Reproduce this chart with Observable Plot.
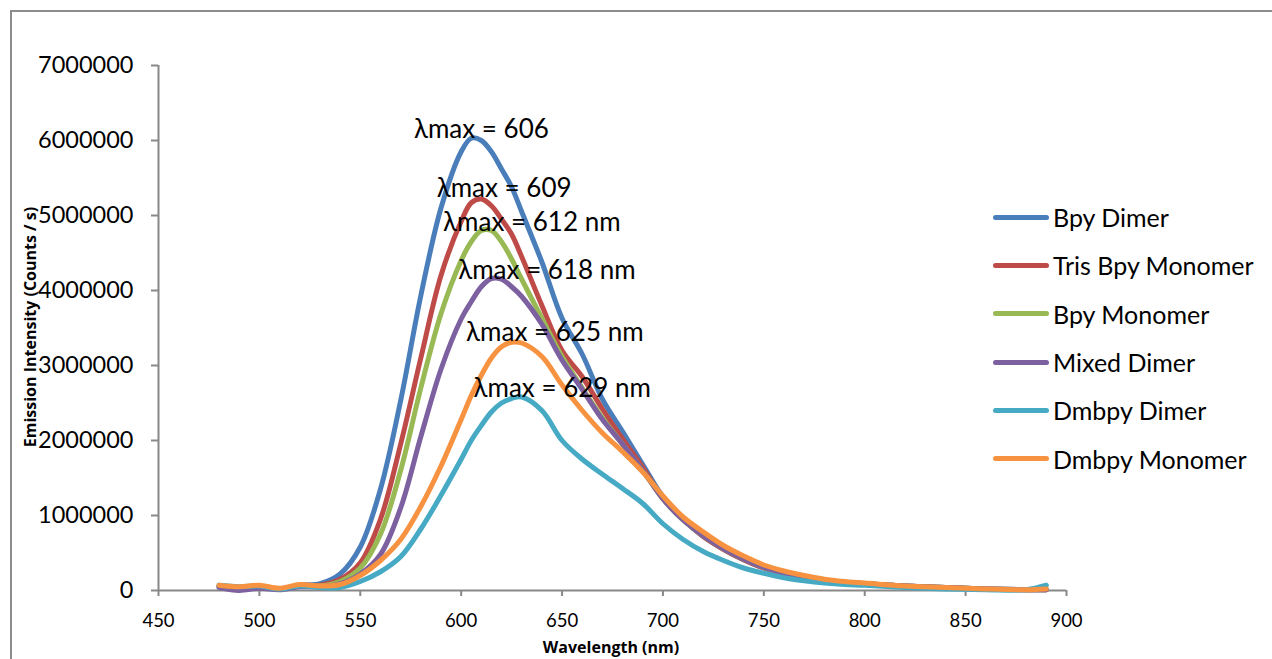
<!DOCTYPE html>
<html>
<head>
<meta charset="utf-8">
<script src="https://cdn.jsdelivr.net/npm/d3@7"></script>
<script src="https://cdn.jsdelivr.net/npm/@observablehq/plot@0.6"></script>
<style>
  html, body { margin: 0; padding: 0; background: #fff; }
  body { position: relative; width: 1272px; height: 659px; overflow: hidden; font-family: Lato, "Open Sans", sans-serif; }
  #chart { position: absolute; left: 0; top: 0; }
  #border { position: absolute; left: 10px; top: 10px; width: 1300px; height: 700px; border: 2px solid #8c8c8c; box-sizing: border-box; pointer-events: none; }
  #legend { position: absolute; left: 993px; top: 193px; }
  .row { height: 48.3px; display: flex; align-items: center; }
  .swatch { width: 56px; height: 5px; border-radius: 3px; margin-right: 4px; }
  .lab { font-size: 25px; color: #000; white-space: nowrap; }
  .atitle { position: absolute; font-family: "Open Sans", sans-serif; font-weight: bold; font-size: 16px; color: #000; white-space: nowrap; transform: translate(-50%, -50%); line-height: 1; }
  #ytitle { left: 30px; top: 327px; transform: translate(-50%, -50%) rotate(-90deg); }
  #xtitle { left: 611px; top: 647px; }
</style>
</head>
<body>
<div id="chart"></div>
<div id="border"></div>
<div id="legend"></div>
<div id="xtitle" class="atitle">Wavelength (nm)</div>
<div id="ytitle" class="atitle">Emission Intensity (Counts / s)</div>
<script>
// ---- data ----
const seriesNames = ["Bpy Dimer", "Tris Bpy Monomer", "Bpy Monomer", "Mixed Dimer", "Dmbpy Dimer", "Dmbpy Monomer"];
const seriesColors = ["#4A7EBB", "#BE4B48", "#98B954", "#7D60A0", "#46AAC5", "#F69240"];

const wavelength = [480,490,500,510,520,530,540,550,560,570,580,590,600,
  605,610,615,620,625,630,
  640,650,660,670,680,690,700,710,720,730,740,750,760,770,780,790,800,
  820,840,860,880,890];

// intensities in millions of counts / s
const bpyDimer = [0.06,0.04,0.05,0.02,0.07,0.09,0.22,0.58,1.35,2.53,3.93,5.1,5.85,
  6.03,6.0,5.85,5.62,5.38,5.05,
  4.38,3.63,3.15,2.55,2.12,1.68,1.25,0.95,0.72,0.55,0.41,0.3,0.23,0.17,0.13,0.11,0.09,
  0.06,0.04,0.02,0.01,0.01];
const trisBpyMonomer = [0.05,0.03,0.05,0.02,0.06,0.07,0.15,0.37,0.95,1.95,3.1,4.2,4.92,
  5.17,5.22,5.13,4.95,4.75,4.45,
  3.8,3.2,2.85,2.42,2.02,1.64,1.23,0.95,0.72,0.55,0.41,0.3,0.23,0.17,0.13,0.11,0.09,
  0.06,0.04,0.02,0.01,0.01];
const bpyMonomer = [0.05,0.03,0.05,0.02,0.06,0.06,0.12,0.3,0.75,1.6,2.7,3.69,4.4,
  4.65,4.8,4.8,4.65,4.42,4.15,
  3.63,3.12,2.7,2.3,1.95,1.6,1.22,0.94,0.73,0.56,0.42,0.31,0.23,0.17,0.13,0.11,0.09,
  0.06,0.04,0.02,0.01,0.01];
const mixedDimer = [0.04,0.0,0.03,0.01,0.05,0.05,0.09,0.22,0.48,1.1,2.05,2.95,3.62,
  3.85,4.05,4.16,4.15,4.05,3.92,
  3.55,3.07,2.68,2.28,1.95,1.6,1.22,0.94,0.73,0.56,0.42,0.31,0.23,0.17,0.13,0.11,0.09,
  0.06,0.04,0.02,0.01,0.01];
const dmbpyDimer = [0.07,0.05,0.06,0.02,0.06,0.04,0.04,0.12,0.25,0.45,0.82,1.27,1.75,
  2.0,2.2,2.38,2.5,2.56,2.58,
  2.4,2.0,1.75,1.55,1.36,1.16,0.89,0.68,0.52,0.4,0.3,0.23,0.17,0.13,0.1,0.08,0.07,
  0.04,0.02,0.01,0.01,0.07];
const dmbpyMonomer = [0.07,0.05,0.07,0.03,0.08,0.06,0.08,0.2,0.4,0.68,1.12,1.66,2.28,
  2.6,2.87,3.1,3.25,3.31,3.3,
  3.12,2.74,2.4,2.1,1.85,1.58,1.26,0.98,0.78,0.6,0.46,0.34,0.26,0.2,0.15,0.12,0.1,
  0.06,0.04,0.02,0.01,0.02];

const xTicks = [450,500,550,600,650,700,750,800,850,900];
const yTicks = [0,1000000,2000000,3000000,4000000,5000000,6000000,7000000];

const annotationText = ["λmax = 606","λmax = 609","λmax = 612 nm","λmax = 618 nm","λmax = 625 nm","λmax = 629 nm"];
const annotationWavelength = [610, 621.3, 635, 642.5, 646.4, 650.1];
const annotationIntensity = [6.15, 5.36, 4.91, 4.27, 3.44, 2.69]; // millions

// ---- build table ----
const seriesValues = [bpyDimer, trisBpyMonomer, bpyMonomer, mixedDimer, dmbpyDimer, dmbpyMonomer];
const rows = [];
seriesNames.forEach((name, i) => {
  wavelength.forEach((w, j) => rows.push({series: name, wl: w, v: seriesValues[i][j] * 1e6}));
});
const annotations = annotationText.map((t, i) => ({label: t, x: annotationWavelength[i], y: annotationIntensity[i] * 1e6}));

const chart = Plot.plot({
  width: 1272,
  height: 659,
  marginLeft: 158,
  marginRight: 206,
  marginTop: 65,
  marginBottom: 69,
  style: {fontFamily: "Lato, 'Open Sans', sans-serif", background: "transparent", color: "#000", overflow: "visible"},
  x: {domain: [450, 900]},
  y: {domain: [0, 7000000]},
  color: {domain: seriesNames, range: seriesColors},
  marks: [
    Plot.axisX({ticks: xTicks, tickSize: 6, tickPadding: 17, tickFormat: d => String(d), stroke: "#888", strokeWidth: 2, fill: "#000", fontSize: 18.5, label: null}),
    Plot.axisY({ticks: yTicks, tickSize: 7, tickPadding: 18, tickFormat: d => String(d), stroke: "#888", strokeWidth: 2, fill: "#000", fontSize: 23.5, label: null}),
    Plot.ruleX([450], {stroke: "#888", strokeWidth: 2}),
    Plot.ruleY([0], {stroke: "#888", strokeWidth: 2}),
    ...seriesNames.map(name => Plot.line(rows.filter(r => r.series === name), {x: "wl", y: "v", stroke: "series", strokeWidth: 5, curve: "catmull-rom", strokeLinecap: "round", strokeLinejoin: "round"})),
    Plot.text(annotations, {x: "x", y: "y", text: "label", fontSize: 26, fill: "#000"})
  ]
});
document.getElementById("chart").appendChild(chart);

// legend
const legend = document.getElementById("legend");
seriesNames.forEach((name, i) => {
  const row = document.createElement("div");
  row.className = "row";
  const sw = document.createElement("div");
  sw.className = "swatch";
  sw.style.background = seriesColors[i];
  const lab = document.createElement("span");
  lab.className = "lab";
  lab.textContent = name;
  row.appendChild(sw);
  row.appendChild(lab);
  legend.appendChild(row);
});
</script>
</body>
</html>
